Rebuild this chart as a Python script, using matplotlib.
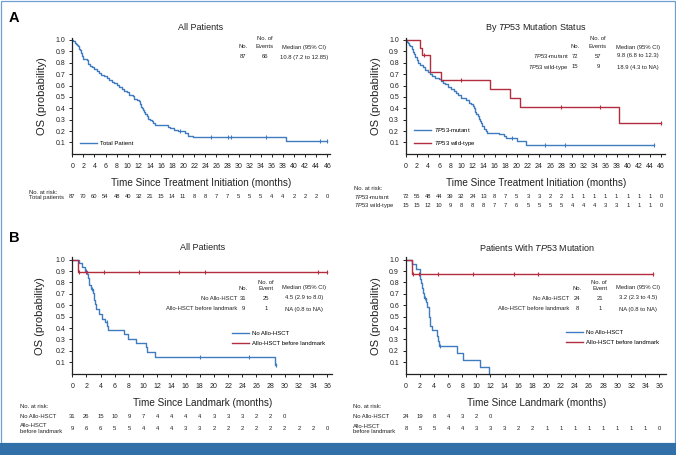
import numpy as np
import matplotlib.pyplot as plt
from matplotlib.patches import Rectangle
from matplotlib.transforms import blended_transform_factory

W, H = 676, 455
BLUE = "#3f7cbf"
RED = "#b22d3e"
DARK = "#222222"

plt.rcParams["font.family"] = ["Liberation Sans", "DejaVu Sans"]
plt.rcParams["mathtext.fontset"] = "custom"
plt.rcParams["mathtext.rm"] = "Liberation Sans"
plt.rcParams["mathtext.it"] = "Liberation Sans:italic"

# ---- panel A, all patients ----
t_all = [0.2, 0.4, 0.6, 0.8, 1.0, 1.2, 1.4, 1.6, 1.8, 2.0, 2.6, 2.9, 3.2, 3.6,
         4.0, 4.4, 4.8, 5.2, 5.8, 6.3, 6.7, 7.1, 7.5, 8.0, 8.5, 8.9, 9.4, 9.8,
         10.2, 10.9, 11.2, 11.6, 12.0, 12.2, 12.4, 12.6, 12.8, 13.0, 13.2,
         13.4, 13.7, 14.0, 14.3, 14.6, 14.9, 17.2, 17.7, 18.3, 19.0, 20.4,
         20.9, 21.7, 38.6]
s_all = [0.99, 0.977, 0.966, 0.954, 0.943, 0.92, 0.908, 0.885, 0.862, 0.83,
         0.82, 0.79, 0.77, 0.76, 0.745, 0.73, 0.71, 0.69, 0.68, 0.665, 0.65,
         0.63, 0.62, 0.605, 0.59, 0.57, 0.555, 0.54, 0.52, 0.505, 0.485, 0.475,
         0.46, 0.44, 0.415, 0.40, 0.385, 0.365, 0.35, 0.33, 0.31, 0.30, 0.285,
         0.27, 0.25, 0.235, 0.225, 0.21, 0.20, 0.18, 0.16, 0.145, 0.11]
c_all = [19.5, 25.0, 28.0, 28.6, 35.0, 44.7, 46.0]
end_all = 46.0

# ---- panel A, by TP53 ----
t_mut = [0.2, 0.4, 0.6, 0.8, 1.0, 1.2, 1.4, 1.7, 1.9, 2.1, 2.6, 3.0, 3.4, 3.9,
         4.3, 4.7, 5.3, 5.9, 6.3, 6.7, 7.1, 7.6, 8.1, 8.6, 9.0, 9.4, 9.9, 10.8,
         11.3, 11.7, 12.0, 12.3, 12.5, 12.7, 12.9, 13.1, 13.3, 13.5, 13.8,
         14.1, 14.4, 14.6, 16.8, 17.6, 18.0, 20.1, 21.7]
s_mut = [0.986, 0.972, 0.958, 0.944, 0.92, 0.89, 0.875, 0.85, 0.82, 0.80,
         0.78, 0.76, 0.74, 0.72, 0.70, 0.68, 0.67, 0.655, 0.64, 0.625, 0.61,
         0.585, 0.57, 0.55, 0.53, 0.515, 0.49, 0.475, 0.45, 0.435, 0.42, 0.40,
         0.37, 0.35, 0.33, 0.31, 0.29, 0.27, 0.24, 0.22, 0.20, 0.18, 0.17,
         0.155, 0.14, 0.11, 0.08]
c_mut = [19.2, 25.0, 28.6, 44.7]
end_mut = 44.7

t_wt = [2.6, 2.9, 4.3, 4.4, 6.3, 15.1, 18.8, 20.6, 38.5]
s_wt = [0.933, 0.867, 0.80, 0.72, 0.65, 0.57, 0.49, 0.41, 0.27]
c_wt = [3.3, 10.0, 28.0, 35.0, 46.0]
end_wt = 46.0

# ---- panel B, all patients (landmark) ----
t_no = [0.9, 1.3, 1.8, 2.1, 2.2, 2.3, 2.4, 2.6, 2.9, 3.0, 3.1, 3.2, 3.3,
        3.75, 4.15, 4.65, 4.9, 5.0, 7.35, 7.85, 8.95, 10.4, 10.6, 11.7, 28.6]
s_no = [0.968, 0.935, 0.903, 0.871, 0.839, 0.806, 0.774, 0.742, 0.709, 0.677,
        0.645, 0.613, 0.565, 0.52, 0.48, 0.45, 0.42, 0.38, 0.345, 0.30, 0.265,
        0.23, 0.19, 0.15, 0.075]
c_no = [1.95, 2.75, 4.85, 18.0, 25.0, 28.75]
end_no = 28.75

t_allo = [0.85]
s_allo = [0.889]
c_allo = [0.95, 1.9, 4.5, 9.4, 15.1, 18.7, 34.7, 35.9]
end_allo = 35.9

# ---- panel B, TP53 mutated (landmark) ----
t_no2 = [0.9, 1.4, 1.95, 2.05, 2.15, 2.25, 2.35, 2.6, 2.9, 3.05, 3.2, 3.3,
         3.35, 3.4, 3.65, 4.45, 4.6, 4.75, 7.3, 8.05, 10.5, 11.85]
s_no2 = [0.958, 0.917, 0.875, 0.833, 0.792, 0.75, 0.708, 0.667, 0.625, 0.583,
         0.542, 0.50, 0.458, 0.417, 0.38, 0.33, 0.285, 0.24, 0.18, 0.12, 0.06,
         0.0]
c_no2 = [2.75, 4.9]
end_no2 = 11.85

t_allo2 = [0.85]
s_allo2 = [0.875]
c_allo2 = [0.95, 1.9, 4.5, 9.5, 15.3, 18.8, 35.1]
end_allo2 = 35.1

# ---- numbers at risk ----
risk_all = [87, 70, 60, 54, 48, 40, 32, 21, 15, 14, 11, 8, 8, 7, 7, 5, 5, 5,
            4, 4, 2, 2, 2, 0]
risk_mut = [72, 55, 48, 44, 39, 32, 24, 13, 8, 7, 5, 3, 3, 2, 2, 1, 1, 1, 1,
            1, 1, 1, 1, 0]
risk_wt = [15, 15, 12, 10, 9, 8, 8, 8, 7, 7, 6, 5, 5, 5, 5, 4, 4, 4, 3, 3, 1,
           1, 1, 0]
risk_no = [31, 26, 15, 10, 9, 7, 4, 4, 4, 4, 3, 3, 3, 2, 2, 0]
risk_allo = [9, 6, 6, 5, 5, 4, 4, 4, 3, 3, 2, 2, 2, 2, 2, 2, 2, 2, 0]
risk_no2 = [24, 19, 8, 4, 3, 2, 0]
risk_allo2 = [8, 5, 5, 4, 4, 3, 3, 3, 2, 2, 1, 1, 1, 1, 1, 1, 1, 1, 0]

fig = plt.figure(figsize=(W / 100, H / 100), dpi=100)


def fx(x):
    return x / W


def fy(y):
    return 1 - y / H


def make_axes(left, top, bottom, xmax, xunit, xstep_max):
    ax = fig.add_axes([fx(left), fy(bottom), xmax * xunit / W, (bottom - top) / H])
    ax.set_xlim(0, xmax)
    ax.set_ylim(0, 1.02)
    for sp in ("top", "right"):
        ax.spines[sp].set_visible(False)
    for sp in ("left", "bottom"):
        ax.spines[sp].set_color(DARK)
        ax.spines[sp].set_linewidth(0.9)
    ax.set_xticks(np.arange(0, xstep_max + 1, 2))
    ax.set_yticks(np.round(np.arange(0.1, 1.01, 0.1), 1))
    ax.set_yticklabels([f"{v:.1f}" for v in np.arange(0.1, 1.01, 0.1)])
    ax.tick_params(axis="both", labelsize=5, length=2.2, width=0.7,
                   color=DARK, labelcolor=DARK)
    ax.tick_params(axis="x", pad=4.5)
    ax.tick_params(axis="y", pad=2.8)
    return ax


def km(ax, t, s, cens, end, color, label):
    t = np.asarray(t)
    s = np.asarray(s)
    x = np.r_[0, t, end]
    y = np.r_[1.0, s, s[-1]]
    ax.step(x, y, where="post", color=color, lw=1.0, label=label, clip_on=False)
    idx = np.searchsorted(t, cens, side="right")
    sv = np.r_[1.0, s][idx]
    ax.plot(cens, sv, ls="none", marker="|", ms=3.5, mew=0.8, color=color,
            clip_on=False)


def ftext(x, y, s, **kw):
    kw.setdefault("fontsize", 4.2)
    kw.setdefault("ha", "center")
    kw.setdefault("va", "center")
    kw.setdefault("color", DARK)
    fig.text(fx(x), fy(y), s, **kw)


def risk_row(ax, values, y):
    tr = blended_transform_factory(ax.transData, fig.transFigure)
    for i, v in enumerate(values):
        ax.text(2 * i, fy(y), str(v), transform=tr, fontsize=4.2, ha="center",
                va="center", color=DARK)


def legend(ax, x, y, spacing):
    ax.legend(loc="center left", bbox_to_anchor=(fx(x), fy(y)),
              bbox_transform=fig.transFigure, frameon=False, fontsize=4.3,
              borderpad=0, borderaxespad=0, handlelength=2.8,
              handletextpad=0.55, labelspacing=spacing)


# ---------------- A left ----------------
ax1 = make_axes(72.3, 37.7, 153.8, 46.5, 5.543, 46)
km(ax1, t_all, s_all, c_all, end_all, BLUE, "Total Patient")
legend(ax1, 80, 143, 0.4)
ftext(201, 27, "All Patients", fontsize=6.5)
ftext(42, 96, "OS (probability)", fontsize=8, rotation=90)
ftext(201, 183, "Time Since Treatment Initiation (months)", fontsize=7.2)
ftext(265, 39, "No. of")
ftext(243, 47, "No.")
ftext(265, 47, "Events")
ftext(304, 47, "Median (95% CI)")
ftext(243, 57, "87")
ftext(265, 57, "66")
ftext(304, 57, "10.8 (7.2 to 12.85)")
ftext(29, 192, "No. at risk:", ha="left")
ftext(29, 197, "Total patients", ha="left")
risk_row(ax1, risk_all, 197)

# ---------------- A right ----------------
ax2 = make_axes(406, 37.7, 153.8, 46.8, 5.543, 46)
km(ax2, t_mut, s_mut, c_mut, end_mut, BLUE, r"$\mathit{TP53}$-mutant")
km(ax2, t_wt, s_wt, c_wt, end_wt, RED, r"$\mathit{TP53}$ wild-type")
legend(ax2, 414, 137, 0.75)
ftext(536, 27, r"By $\mathit{TP53}$ Mutation Status", fontsize=6.5)
ftext(376, 96, "OS (probability)", fontsize=8, rotation=90)
ftext(536, 183, "Time Since Treatment Initiation (months)", fontsize=7.2)
ftext(598, 39, "No. of")
ftext(575, 47, "No.")
ftext(598, 47, "Events")
ftext(638, 47, "Median (95% CI)")
ftext(569, 56, r"$\mathit{TP53}$-mutant", ha="right")
ftext(575, 56, "72")
ftext(598, 56, "57")
ftext(638, 56, "9.8 (6.8 to 12.3)")
ftext(569, 67, r"$\mathit{TP53}$ wild-type", ha="right")
ftext(575, 67, "15")
ftext(598, 67, "9")
ftext(638, 67, "18.9 (4.3 to NA)")
ftext(354, 188, "No. at risk:", ha="left")
ftext(354, 197, r"$\mathit{TP53}$-mutant", ha="left")
ftext(354, 206, r"$\mathit{TP53}$ wild-type", ha="left")
risk_row(ax2, risk_mut, 197)
risk_row(ax2, risk_wt, 206)

# ---------------- B left ----------------
ax3 = make_axes(72.3, 257.4, 373.7, 36.6, 7.083, 36)
km(ax3, t_no, s_no, c_no, end_no, BLUE, "No Allo-HSCT")
km(ax3, t_allo, s_allo, c_allo, end_allo, RED, "Allo-HSCT before landmark")
legend(ax3, 232, 338.5, 0.75)
ftext(203, 248, "All Patients", fontsize=6.5)
ftext(40, 316, "OS (probability)", fontsize=8, rotation=90)
ftext(203, 403, "Time Since Landmark (months)", fontsize=7.2)
ftext(266, 282, "No. of")
ftext(243, 288, "No.")
ftext(266, 288, "Event")
ftext(304, 288, "Median (95% CI)")
ftext(237, 298, "No Allo-HSCT", ha="right")
ftext(243, 298, "31")
ftext(266, 298, "25")
ftext(304, 298, "4.5 (2.9 to 8.0)")
ftext(237, 309, "Allo-HSCT before landmark", ha="right")
ftext(243, 309, "9")
ftext(266, 309, "1")
ftext(304, 309, "NA (0.8 to NA)")
ftext(20, 407, "No. at risk:", ha="left")
ftext(20, 417, "No Allo-HSCT", ha="left")
ftext(20, 428.5, "Allo-HSCT\nbefore landmark", ha="left", linespacing=1.1)
risk_row(ax3, risk_no, 417)
risk_row(ax3, risk_allo, 428.5)

# ---------------- B right ----------------
ax4 = make_axes(406, 257.4, 373.7, 37.0, 7.04, 36)
km(ax4, t_no2, s_no2, c_no2, end_no2, BLUE, "No Allo-HSCT")
km(ax4, t_allo2, s_allo2, c_allo2, end_allo2, RED, "Allo-HSCT before landmark")
legend(ax4, 566, 337.5, 0.75)
ftext(537, 248, r"Patients With $\mathit{TP53}$ Mutation", fontsize=6.5)
ftext(376, 316, "OS (probability)", fontsize=8, rotation=90)
ftext(537, 403, "Time Since Landmark (months)", fontsize=7.2)
ftext(599, 282, "No. of")
ftext(577, 288, "No.")
ftext(600, 288, "Event")
ftext(638, 288, "Median (95% CI)")
ftext(569, 298, "No Allo-HSCT", ha="right")
ftext(577, 298, "24")
ftext(600, 298, "21")
ftext(638, 298, "3.2 (2.3 to 4.5)")
ftext(569, 309, "Allo-HSCT before landmark", ha="right")
ftext(577, 309, "8")
ftext(600, 309, "1")
ftext(638, 309, "NA (0.8 to NA)")
ftext(353, 407, "No. at risk:", ha="left")
ftext(353, 417, "No Allo-HSCT", ha="left")
ftext(353, 429, "Allo-HSCT\nbefore landmark", ha="left", linespacing=1.1)
risk_row(ax4, risk_no2, 417)
risk_row(ax4, risk_allo2, 429)

# panel letters
ftext(14, 18, "A", fontsize=10.5, fontweight="bold", color="black")
ftext(14, 238, "B", fontsize=10.5, fontweight="bold", color="black")

# frame and bottom band
fig.add_artist(Rectangle((fx(0.6), fy(443)), fx(674.4), (443 - 0.6) / H,
                         transform=fig.transFigure, fill=False,
                         edgecolor="#6f9fd0", lw=0.9))
fig.add_artist(Rectangle((0, 0), 1, 12 / H, transform=fig.transFigure,
                         facecolor="#3270aa", edgecolor="none"))

fig.savefig("out.png", dpi=100)
